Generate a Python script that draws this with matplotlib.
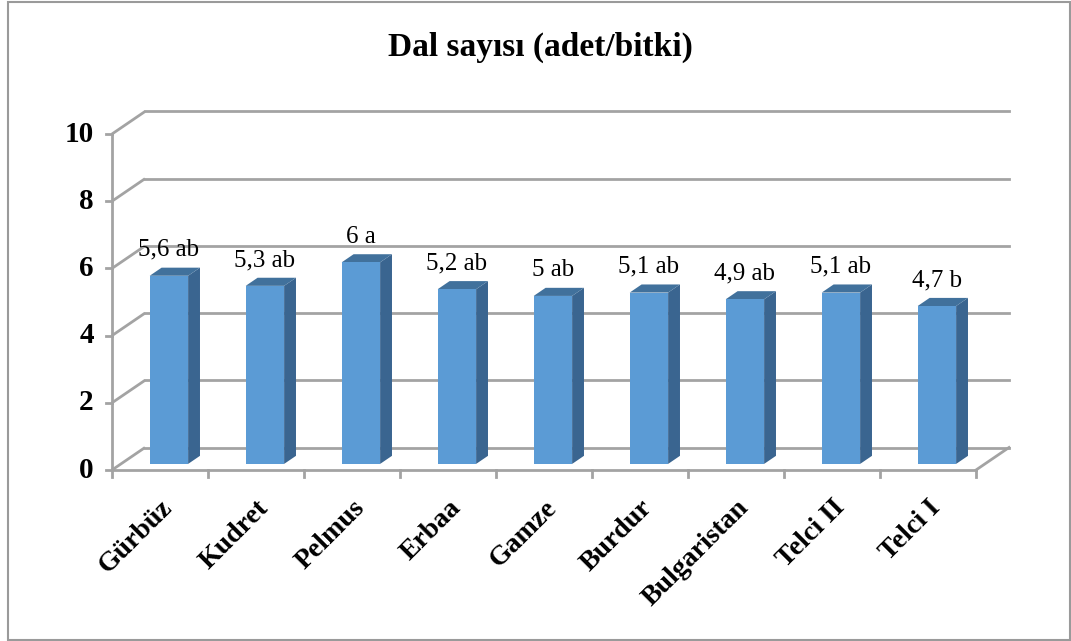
import matplotlib
matplotlib.use('Agg')
import matplotlib.pyplot as plt
from matplotlib.patches import Polygon, Rectangle

plt.rcParams['font.family'] = ['Liberation Serif', 'DejaVu Serif']

categories = ['Gürbüz', 'Kudret', 'Pelmus', 'Erbaa', 'Gamze', 'Burdur',
              'Bulgaristan', 'Telci II', 'Telci I']
values = [5.6, 5.3, 6.0, 5.2, 5.0, 5.1, 4.9, 5.1, 4.7]
value_labels = ['5,6 ab', '5,3 ab', '6 a', '5,2 ab', '5 ab', '5,1 ab',
                '4,9 ab', '5,1 ab', '4,7 b']
y_ticks = [0, 2, 4, 6, 8, 10]
title = 'Dal sayısı (adet/bitki)'

W, H = 1071, 641
# pixel mapping of the front plane: x = 112 + 96*cat, y = 470 - 33.6*val
X0, XS = 112, 96.0
Y0, YS = 470, 33.6
# full depth offset (front -> back wall), in data units
DX = 33 / XS
DY = 22.5 / YS
# bar placement in depth
D_FRONT = 0.27
D_BACK = 0.63
BAR_W = 0.40

grid_c = '#a3a3a3'
front_c = '#5b9bd5'
side_c = '#3a6590'
top_c = '#41719c'

fig = plt.figure(figsize=(W / 100, H / 100), dpi=100)
ax = fig.add_axes([0, 0, 1, 1])
ax.set_xlim(-X0 / XS, (W - X0) / XS)
ax.set_ylim((Y0 - H) / YS, Y0 / YS)
ax.axis('off')

n = len(categories)
ymax = y_ticks[-1]

# back wall gridlines + side wall diagonals
for t in y_ticks:
    ax.plot([0, DX], [t, t + DY], color=grid_c, lw=2, solid_capstyle='butt')
    ax.plot([DX, n + DX], [t + DY, t + DY], color=grid_c, lw=2)
    ax.plot([-0.06, 0], [t, t], color=grid_c, lw=2)
# floor
ax.plot([0, n], [0, 0], color=grid_c, lw=2)
ax.plot([n, n + DX], [0, DY], color=grid_c, lw=2)
# front vertical axis
ax.plot([0, 0], [0, ymax], color=grid_c, lw=2)
# category ticks
for i in range(n + 1):
    ax.plot([i, i], [0, -0.2], color=grid_c, lw=2)

# bars
for i, v in enumerate(values):
    x0 = i + 0.5 - BAR_W / 2 + D_FRONT * DX
    x1 = x0 + BAR_W
    yb = D_FRONT * DY
    yt = yb + v
    ddx = (D_BACK - D_FRONT) * DX
    ddy = (D_BACK - D_FRONT) * DY
    ax.add_patch(Polygon([[x1, yb], [x1 + ddx, yb + ddy], [x1 + ddx, yt + ddy], [x1, yt]],
                         closed=True, fc=side_c, ec='none', zorder=3))
    ax.add_patch(Polygon([[x0, yt], [x1, yt], [x1 + ddx, yt + ddy], [x0 + ddx, yt + ddy]],
                         closed=True, fc=top_c, ec='none', zorder=3))
    ax.add_patch(Rectangle((x0, yb), BAR_W, v, fc=front_c, ec='none', zorder=4))
    ax.text(x0 + BAR_W / 2, yt + ddy + 0.2, value_labels[i],
            ha='center', va='bottom', fontsize=18, zorder=5)

# y tick labels
for t in y_ticks:
    ax.text(-0.19, t, str(t), ha='right', va='center', fontsize=21, fontweight='bold')

# x tick labels
for i, c in enumerate(categories):
    ax.text(i + 0.5, -0.75, c, ha='right', va='top', rotation=45,
            rotation_mode='anchor', fontsize=20, fontweight='bold')

fig.text(540 / W, 1 - 47 / H, title, ha='center', va='center',
         fontsize=24, fontweight='bold')

# chart border
fig.add_artist(Rectangle((8 / W, 1 / H), (W - 9) / W, (H - 3) / H,
                         transform=fig.transFigure, fill=False, ec='#9a9a9a', lw=1.5))

fig.savefig('out.png', dpi=100)
